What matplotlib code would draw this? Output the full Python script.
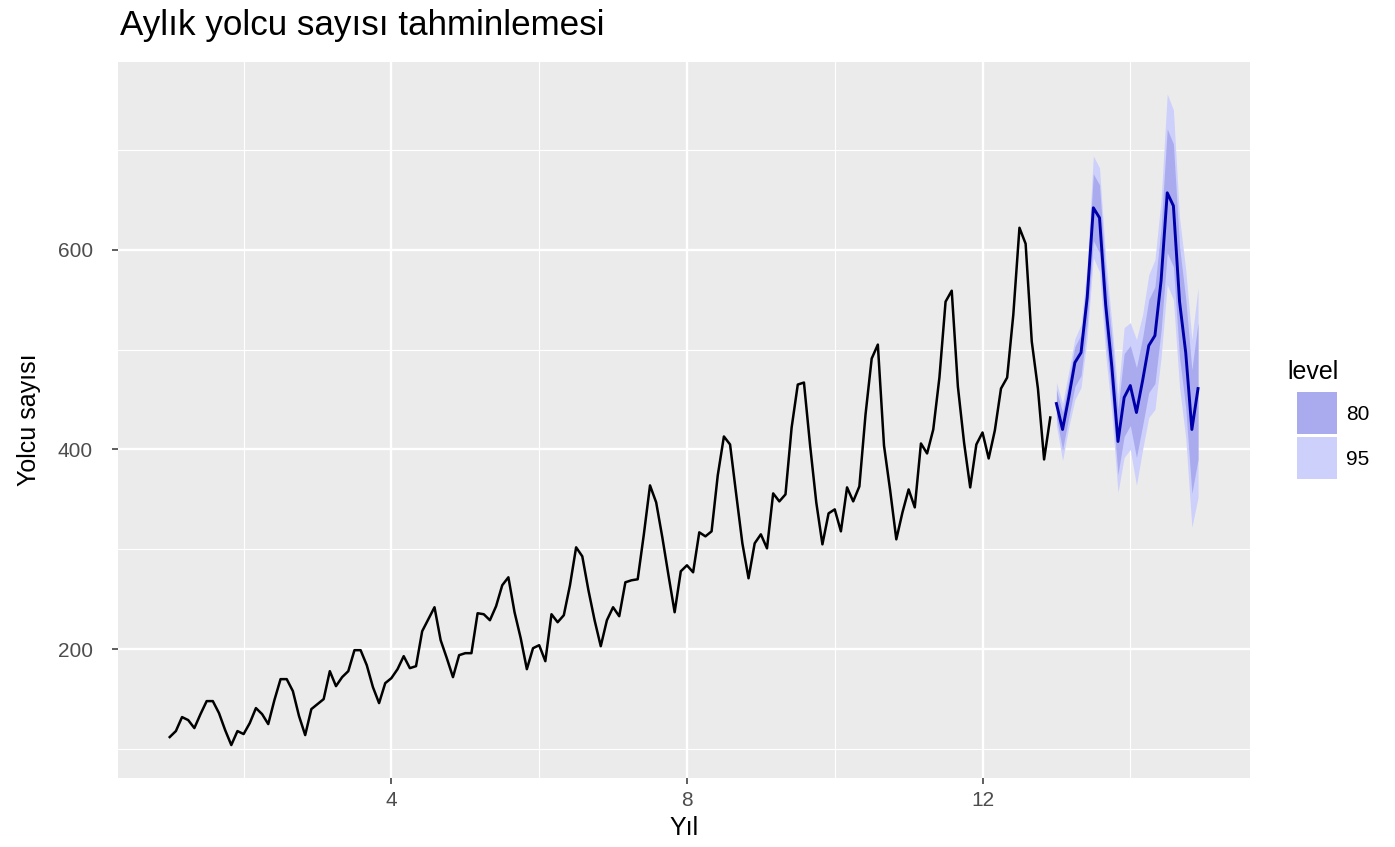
import numpy as np
import matplotlib.pyplot as plt
from matplotlib.patches import Rectangle

# monthly passengers (AirPassengers, 12 years)
passengers = [
    112, 118, 132, 129, 121, 135, 148, 148, 136, 119, 104, 118,
    115, 126, 141, 135, 125, 149, 170, 170, 158, 133, 114, 140,
    145, 150, 178, 163, 172, 178, 199, 199, 184, 162, 146, 166,
    171, 180, 193, 181, 183, 218, 230, 242, 209, 191, 172, 194,
    196, 196, 236, 235, 229, 243, 264, 272, 237, 211, 180, 201,
    204, 188, 235, 227, 234, 264, 302, 293, 259, 229, 203, 229,
    242, 233, 267, 269, 270, 315, 364, 347, 312, 274, 237, 278,
    284, 277, 317, 313, 318, 374, 413, 405, 355, 306, 271, 306,
    315, 301, 356, 348, 355, 422, 465, 467, 404, 347, 305, 336,
    340, 318, 362, 348, 363, 435, 491, 505, 404, 359, 310, 337,
    360, 342, 406, 396, 420, 472, 548, 559, 463, 407, 362, 405,
    417, 391, 419, 461, 472, 535, 622, 606, 508, 461, 390, 432,
]

# 24-month forecast with 80 / 95 intervals
fc_mean = [446, 420, 452, 487, 497, 552, 642, 632, 545, 483, 408, 452,
           464, 437, 469, 504, 514, 569, 657, 644, 548, 497, 420, 461]
fc_lo80 = [432, 400, 432, 463, 474, 526, 609, 597, 512, 452, 375, 413,
           424, 392, 424, 457, 466, 519, 597, 583, 492, 442, 356, 390]
fc_hi80 = [460, 437, 469, 503, 515, 573, 676, 665, 576, 512, 440, 496,
           504, 482, 512, 550, 563, 622, 721, 706, 603, 551, 480, 527]
fc_lo95 = [424, 389, 422, 450, 462, 512, 592, 578, 495, 436, 357, 392,
           400, 364, 400, 432, 440, 492, 565, 550, 462, 412, 322, 352]
fc_hi95 = [467, 446, 478, 511, 525, 585, 694, 682, 592, 527, 455, 522,
           527, 510, 535, 575, 590, 650, 756, 740, 632, 580, 510, 562]

levels = ["80", "95"]
level_colors = ["#A9ABEE", "#CDD0FB"]

x_hist = 1 + np.arange(len(passengers)) / 12
x_fc = 13 + np.arange(len(fc_mean)) / 12

W, H = 1395, 847
fig = plt.figure(figsize=(W / 100, H / 100), dpi=100)
plt.rcParams['font.family'] = ['Liberation Sans', 'DejaVu Sans']
ax = fig.add_axes([118 / W, 1 - 778 / H, (1250 - 118) / W, (778 - 62) / H])
ax.set_facecolor('#EBEBEB')

ax.fill_between(x_fc, fc_lo95, fc_hi95, color=level_colors[1], lw=0, zorder=2)
ax.fill_between(x_fc, fc_lo80, fc_hi80, color=level_colors[0], lw=0, zorder=3)
ax.plot(x_hist, passengers, color='black', lw=1.8, zorder=4)
ax.plot(x_fc, fc_mean, color='#0000AA', lw=2.1, zorder=5)

ax.set_xlim(0.3, 15.62)
ax.set_ylim(71, 788)
ax.set_xticks([4, 8, 12])
ax.set_xticks([2, 6, 10, 14], minor=True)
ax.set_yticks([200, 400, 600])
ax.set_yticks([100, 300, 500, 700], minor=True)
ax.grid(which='major', color='white', lw=1.7)
ax.grid(which='minor', color='white', lw=0.8)
ax.set_axisbelow(True)
for s in ax.spines.values():
    s.set_visible(False)
ax.tick_params(which='major', length=4, width=1.1, color='#333333',
               labelcolor='#4D4D4D', labelsize=15)
ax.tick_params(axis='x', which='major', pad=5)
ax.tick_params(axis='y', which='major', pad=14)
ax.tick_params(which='minor', length=0)

ax.set_xlabel('Yıl', fontsize=18, color='black', labelpad=5)
ax.set_ylabel('Yolcu sayısı', fontsize=18, color='black', labelpad=12)
fig.text(120 / W, 1 - 25 / H, 'Aylık yolcu sayısı tahminlemesi',
         fontsize=25.2, va='center', ha='left')

# legend
fig.text(1287 / W, 1 - 372 / H, 'level', fontsize=18, va='center', ha='left')
for i, (lab, col) in enumerate(zip(levels, level_colors)):
    y0 = 392 + i * 45
    fig.add_artist(Rectangle((1297 / W, 1 - (y0 + 42) / H), 40 / W, 42 / H,
                             transform=fig.transFigure, facecolor=col,
                             edgecolor='none'))
    fig.text(1346 / W, 1 - (y0 + 22) / H, lab, fontsize=15, va='center',
             ha='left')

fig.savefig('out.png', dpi=100)
